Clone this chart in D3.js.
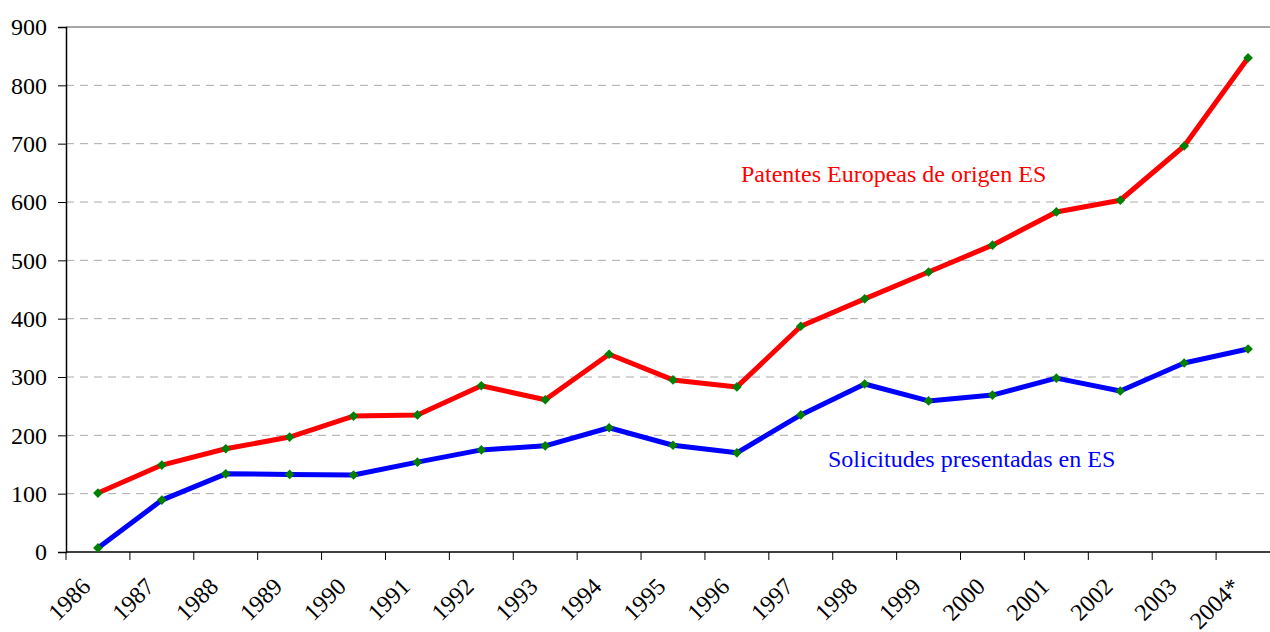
<!DOCTYPE html>
<html>
<head>
<meta charset="utf-8">
<script src="https://cdn.jsdelivr.net/npm/d3@7"></script>
<style>
  body { margin: 0; background: #fff; }
  text { font-family: "Liberation Serif", "Times New Roman", serif; }
</style>
</head>
<body>
<div id="chart"></div>
<script>
var years = ['1986','1987','1988','1989','1990','1991','1992','1993','1994','1995',
             '1996','1997','1998','1999','2000','2001','2002','2003','2004*'];
var patentes = [101,149,177,197,233,235,285,261,339,295,283,387,434,480,526,583,603,696,847];
var solicitudes = [7,89,134,133,132,154,175,182,213,183,170,235,288,259,269,298,276,324,348];
var yTicks = [0,100,200,300,400,500,600,700,800,900];

var width = 1270, height = 632;
var margin = {top: 27, right: 0, bottom: 80, left: 66};

var svg = d3.select('#chart').append('svg')
    .attr('width', width)
    .attr('height', height);

var x = d3.scaleBand().domain(years)
    .range([margin.left, 1280]);
var y = d3.scaleLinear().domain([0, 900])
    .range([height - margin.bottom, margin.top]);

// gridlines
svg.append('g').selectAll('line')
    .data(yTicks.filter(function(d){ return d > 0; }))
    .enter().append('line')
    .attr('x1', margin.left).attr('x2', width)
    .attr('y1', function(d){ return y(d); })
    .attr('y2', function(d){ return y(d); })
    .attr('stroke', function(d){ return d == 900 ? '#888' : '#aaa'; })
    .attr('stroke-width', function(d){ return d == 900 ? 1.5 : 1; })
    .attr('stroke-dasharray', function(d){ return d == 900 ? null : '8,6'; });

// y axis
var yAxis = svg.append('g')
    .attr('transform', 'translate(' + margin.left + ',0)')
    .call(d3.axisLeft(y).tickValues(yTicks).tickSize(8).tickPadding(11));
yAxis.select('.domain').attr('stroke', '#000').attr('stroke-width', 1.5);
yAxis.selectAll('.tick line').attr('stroke', '#000');
yAxis.selectAll('text').style('font-size', '24px').attr('fill', '#000');

// x axis
var xAxis = svg.append('g')
    .attr('transform', 'translate(0,' + y(0) + ')');
xAxis.append('line')
    .attr('x1', margin.left).attr('x2', width)
    .attr('y1', 0).attr('y2', 0)
    .attr('stroke', '#000').attr('stroke-width', 1.5);
xAxis.selectAll('.xt').data(years).enter().append('line')
    .attr('class', 'xt')
    .attr('x1', function(d){ return x(d); })
    .attr('x2', function(d){ return x(d); })
    .attr('y1', 0).attr('y2', 8)
    .attr('stroke', '#000');
xAxis.selectAll('.xl').data(years).enter().append('text')
    .attr('class', 'xl')
    .attr('text-anchor', 'end')
    .style('font-size', '24px')
    .attr('transform', function(d){
        return 'translate(' + (x(d) + x.bandwidth() / 2 - 6) + ',36) rotate(-45)';
    })
    .text(function(d){ return d; });

var line = d3.line()
    .x(function(d, i){ return x(years[i]) + x.bandwidth() / 2; })
    .y(function(d){ return y(d); });

function drawSeries(data, color){
    svg.append('path')
        .datum(data)
        .attr('fill', 'none')
        .attr('stroke', color)
        .attr('stroke-width', 5)
        .attr('stroke-linejoin', 'round')
        .attr('d', line);
    svg.append('g').selectAll('path')
        .data(data)
        .enter().append('path')
        .attr('d', d3.symbol().type(d3.symbolDiamond2).size(60))
        .attr('fill', 'green')
        .attr('transform', function(d, i){
            return 'translate(' + (x(years[i]) + x.bandwidth() / 2) + ',' + y(d) + ')';
        });
}
drawSeries(patentes, '#ff0000');
drawSeries(solicitudes, '#0000ff');

svg.append('text')
    .attr('x', 741).attr('y', 182)
    .attr('fill', '#ff0000')
    .style('font-size', '24px')
    .text('Patentes Europeas de origen ES');
svg.append('text')
    .attr('x', 828).attr('y', 467)
    .attr('fill', '#0000ff')
    .style('font-size', '24px')
    .text('Solicitudes presentadas en ES');
</script>
</body>
</html>
